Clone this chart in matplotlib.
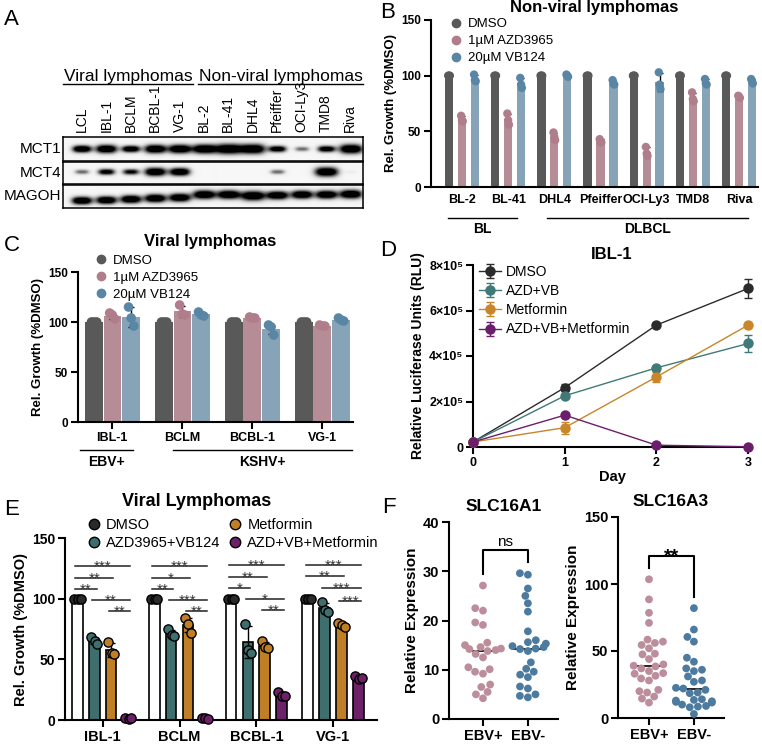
import numpy as np
import pandas as pd
import matplotlib
matplotlib.use('Agg')
import matplotlib.pyplot as plt
import seaborn as sns
from matplotlib.lines import Line2D

plt.rcParams['font.family'] = ['Liberation Sans', 'DejaVu Sans']

# ── data ─────────────────────────────────────────────────────────────────────

# A: western blot (band strength per lane, >1 = saturated)
blot_lanes = ['LCL', 'IBL-1', 'BCLM', 'BCBL-1', 'VG-1', 'BL-2', 'BL-41',
              'DHL4', 'Pfeiffer', 'OCI-Ly3', 'TMD8', 'Riva']
mct1_level = [0.75, 1.0, 0.65, 1.05, 1.1, 1.2, 1.5, 1.3, 0.6, 0.3, 0.6, 1.2]
mct4_level = [0.3, 0.55, 0.5, 1.0, 0.9, 0, 0, 0, 0.3, 0, 1.2, 0.04]
magoh_level = [0.9, 0.9, 0.95, 1.0, 1.0, 1.1, 1.1, 1.25, 1.0, 1.0, 1.0, 1.1]
mct1_pos = [0.5] * 12
mct4_pos = [0.45] * 12
magoh_pos = [0.68, 0.66, 0.62, 0.58, 0.55, 0.42, 0.42, 0.47, 0.45, 0.42, 0.42, 0.40]

# B: non-viral lymphomas, % DMSO (3 replicates)
b_lines = ['BL-2', 'BL-41', 'DHL4', 'Pfeiffer', 'OCI-Ly3', 'TMD8', 'Riva']
b_dmso = [[100, 100, 100]] * 7
b_azd = [[64, 60, 59], [66, 60, 56], [49, 45, 42], [43, 40, 40],
         [36, 30, 28], [85, 79, 77], [82, 81, 80]]
b_vb = [[101, 96, 95], [98, 92, 89], [101, 100, 99], [96, 93, 92],
        [103, 92, 88], [97, 93, 92], [97, 95, 93]]

# C: viral lymphomas, % DMSO
c_lines = ['IBL-1', 'BCLM', 'BCBL-1', 'VG-1']
c_dmso = [[100, 100, 100]] * 4
c_azd = [[109, 107, 103], [117, 108, 107], [105, 104, 104], [97, 96, 96]]
c_vb = [[115, 104, 96], [110, 107, 106], [97, 95, 87], [104, 102, 101]]

# D: IBL-1 growth (RLU)
d_days = [0, 1, 2, 3]
d_dmso = [22000, 261000, 536000, 697000]
d_dmso_err = [2000, 15000, 5000, 40000]
d_azdvb = [22000, 225000, 348000, 455000]
d_azdvb_err = [2000, 6000, 5000, 37000]
d_met = [22000, 85000, 308000, 536000]
d_met_err = [2000, 27000, 23000, 5000]
d_triple = [22000, 140000, 8000, 1000]
d_triple_err = [2000, 5000, 2000, 1000]

# E: viral lymphomas with metformin, % DMSO
e_lines = ['IBL-1', 'BCLM', 'BCBL-1', 'VG-1']
e_dmso = [[100, 100, 100]] * 4
e_azdvb = [[68, 65, 63], [75, 70, 69], [79, 58, 55], [97, 91, 89]]
e_met = [[64, 55, 54], [84, 79, 72], [65, 60, 59], [80, 78, 77]]
e_triple = [[1.5, 1, 1.5], [1.5, 1.5, 1], [23, 20, 20], [36, 34, 35]]
# significance: (group, bar_i, bar_j, y, label)
e_sig = [
    (0, 0, 3, 127, '***'), (0, 0, 2, 117, '**'), (0, 0, 1, 108, '**'),
    (0, 1, 3, 99, '**'), (0, 2, 3, 90, '**'),
    (1, 0, 3, 127, '***'), (1, 0, 2, 117, '*'), (1, 0, 1, 108, '**'),
    (1, 1, 3, 99, '***'), (1, 2, 3, 90, '**'),
    (2, 0, 3, 128, '***'), (2, 0, 2, 118, '**'), (2, 0, 1, 109, '*'),
    (2, 1, 3, 100, '*'), (2, 2, 3, 91, '**'),
    (3, 0, 3, 128, '***'), (3, 0, 2, 119, '**'), (3, 1, 3, 109, '***'),
    (3, 2, 3, 98, '***'),
]

# F: relative expression, EBV+ vs EBV-
f1_pos = [27.1, 22.5, 22.0, 19.6, 19.1, 15.5, 15.0, 14.6, 14.2, 14.0, 14.3,
          13.8, 13.2, 12.5, 10.5, 10.1, 9.6, 9.2, 7.0, 6.5, 5.5, 5.0, 4.2]
f1_neg = [29.6, 29.3, 26.5, 25.0, 23.5, 21.8, 17.8, 16.0, 15.6, 15.3, 14.8,
          14.6, 14.3, 14.2, 13.8, 11.5, 10.2, 9.6, 9.0, 8.5, 6.6, 6.2, 5.0,
          4.7, 4.4]
f3_pos = [103.5, 88.5, 78.5, 71, 58.5, 57, 56, 54.5, 52, 48, 47.5, 44, 40, 39,
          38.5, 37, 35, 33.5, 33, 31.5, 29.5, 28, 21, 20, 19, 16, 14.5, 11.5]
f3_neg = [82, 66, 60.5, 57, 45, 42, 37, 36, 35, 31, 28, 27, 22.5, 22, 21, 19,
          18.5, 14, 13.5, 13, 12.5, 12, 11.5, 10, 9, 8.5, 8, 3]
f1_sig = (34.3, 29.5, 31.8, 'ns')
f3_sig = (121, 112, 90, '**')

# ── colours ──────────────────────────────────────────────────────────────────
GRAY = '#595959'
PINK, PINK_D = '#b68c97', '#b07d8b'
BLUE, BLUE_D = '#87a3b7', '#5a86a6'
TEAL, ORANGE, PURPLE = '#3e6e6e', '#c07f25', '#6d2168'
F_PINK, F_BLUE = '#bc8e9b', '#4d7ba0'

W, H = 762, 744
fig = plt.figure(figsize=(W / 100, H / 100), dpi=100)


def px_axes(x0, y0, x1, y1):
    return fig.add_axes([x0 / W, 1 - y1 / H, (x1 - x0) / W, (y1 - y0) / H])


def prism(ax, lw=1.5):
    for s in ['top', 'right']:
        ax.spines[s].set_visible(False)
    for s in ['left', 'bottom']:
        ax.spines[s].set_linewidth(lw)
    ax.tick_params(width=lw, length=5, direction='out', pad=2)


def ftext(x, y, s, **kw):
    fig.text(x / W, 1 - y / H, s, **kw)


def bars(ax, x, reps, width, color, pcolor, edge='none', pedge='none',
         psize=25, jit=(-0.12, 0.0, 0.12), cap=2):
    reps = np.asarray(reps, float)
    m, sd = reps.mean(1), reps.std(1, ddof=1)
    ax.bar(x, m, width, color=color, edgecolor=edge, lw=1.2, zorder=2)
    ax.errorbar(x, m, yerr=sd, fmt='none', ecolor='black', elinewidth=1,
                capsize=cap, capthick=1, zorder=3)
    for j in range(reps.shape[1]):
        ax.scatter(x + jit[j] * width, reps[:, j], s=psize, color=pcolor,
                   edgecolors=pedge, linewidths=1, zorder=4, clip_on=False)


# ── panel letters ────────────────────────────────────────────────────────────
for letter, x, y in [('A', 4, 25), ('B', 380, 18), ('C', 4, 251),
                     ('D', 380, 256), ('E', 4, 515), ('F', 382, 513)]:
    ftext(x, y, letter, fontsize=16, va='baseline')

# ── A: blot ──────────────────────────────────────────────────────────────────
lane_x = np.linspace(82, 350, len(blot_lanes))
BL_X0, BL_X1 = 63, 363


def band_image(level, ypos, wpx, hpx):
    X, Y = np.meshgrid(np.arange(wpx) + 0.5, np.arange(hpx) + 0.5)
    img = np.full((hpx, wpx), 0.07)
    for cx, a, yp in zip(lane_x - BL_X0, level, ypos):
        if a <= 0:
            continue
        sx = 6 + 5 * min(a, 1.5)
        sy = 1.8 + 2.6 * min(a, 1.4)
        img += 1.3 * min(1.0, 1.5 * a) * np.exp(
            -np.abs((X - cx) / sx) ** 3 - ((Y - yp * hpx) / sy) ** 2)
    return np.clip(img, 0, 1)


for name, lev, pos, (y0, y1) in [('MCT1', mct1_level, mct1_pos, (137, 161)),
                                  ('MCT4', mct4_level, mct4_pos, (162, 184)),
                                  ('MAGOH', magoh_level, magoh_pos, (185, 208))]:
    ax = px_axes(BL_X0, y0, BL_X1, y1)
    ax.imshow(band_image(lev, pos, BL_X1 - BL_X0, y1 - y0), cmap='Greys',
              vmin=0, vmax=1, aspect='auto', interpolation='bilinear')
    ax.set_xticks([]); ax.set_yticks([])
    for s in ax.spines.values():
        s.set_linewidth(1.1)
    ftext(61, (y0 + y1) / 2, name, fontsize=11, ha='right', va='center')

for x, name in zip(lane_x, blot_lanes):
    ftext(x, 132, name, fontsize=10, rotation=90, ha='center', va='bottom')

for label, x0, x1 in [('Viral lymphomas', 63, 193), ('Non-viral lymphomas', 198, 363)]:
    fig.add_artist(Line2D([x0 / W, x1 / W], [1 - 84 / H] * 2, color='black', lw=1))
    ftext((x0 + x1) / 2, 81, label, fontsize=12.5, ha='center', va='baseline')

# ── B ────────────────────────────────────────────────────────────────────────
ax = px_axes(431, 20, 758, 187)
prism(ax)
xb = np.arange(len(b_lines))
bj = (-0.1, 0.0, 0.1)
bars(ax, xb - 0.28, b_dmso, 0.18, GRAY, GRAY, psize=36, jit=bj)
bars(ax, xb, b_azd, 0.18, PINK, PINK_D, psize=36, jit=bj)
bars(ax, xb + 0.28, b_vb, 0.18, BLUE, BLUE_D, psize=36, jit=bj)
ax.set_xlim(-0.67, 6.41)
ax.set_ylim(0, 150)
ax.set_yticks([0, 50, 100, 150])
ax.set_xticks(xb, b_lines)
ax.tick_params(axis='x', length=0, pad=5)
for t in ax.get_xticklabels():
    t.set_fontsize(9); t.set_fontweight('bold')
for t in ax.get_yticklabels():
    t.set_fontsize(8.5); t.set_fontweight('bold')
ax.set_ylabel('Rel. Growth (%DMSO)', fontsize=9.5, fontweight='bold', labelpad=3)
ax.set_title('Non-viral lymphomas', fontsize=12, fontweight='bold', pad=6)
tr = ax.get_xaxis_transform()
for label, x0, x1 in [('BL', -0.3, 1.2), ('DLBCL', 1.85, 6.2)]:
    ax.plot([x0, x1], [-0.186, -0.186], color='black', lw=1, transform=tr, clip_on=False)
    ax.text((x0 + x1) / 2, -0.25, label, transform=tr, ha='center', va='center',
            fontsize=10, fontweight='bold')
hb = [Line2D([], [], ls='', marker='o', ms=6, color=c) for c in (GRAY, PINK_D, BLUE_D)]
ax.legend(hb, ['DMSO', '1µM AZD3965', '20µM VB124'], loc='upper left',
          bbox_to_anchor=(0.035, 1.05), frameon=False, fontsize=9.5,
          handlelength=1, handletextpad=0.4, labelspacing=0.35, borderpad=0)

# ── C ────────────────────────────────────────────────────────────────────────
ax = px_axes(78, 272, 353, 422)
prism(ax)
xc = np.arange(len(c_lines))
cj = (-0.15, 0.0, 0.15)
bars(ax, xc - 0.26, c_dmso, 0.25, GRAY, GRAY, psize=48, jit=cj)
bars(ax, xc, c_azd, 0.25, PINK, PINK_D, psize=48, jit=cj)
bars(ax, xc + 0.27, c_vb, 0.25, BLUE, BLUE_D, psize=48, jit=cj)
ax.set_xlim(-0.49, 3.44)
ax.set_ylim(0, 150)
ax.set_yticks([0, 50, 100, 150])
ax.set_xticks(xc, c_lines)
for t in ax.get_xticklabels():
    t.set_fontsize(9); t.set_fontweight('bold')
for t in ax.get_yticklabels():
    t.set_fontsize(8.5); t.set_fontweight('bold')
ax.set_ylabel('Rel. Growth (%DMSO)', fontsize=9.5, fontweight='bold', labelpad=3)
ftext(210, 242, 'Viral lymphomas', fontsize=12, fontweight='bold', ha='center', va='center')
tr = ax.get_xaxis_transform()
for label, x0, x1 in [('EBV+', -0.46, 0.30), ('KSHV+', 0.87, 3.42)]:
    ax.plot([x0, x1], [-0.187, -0.187], color='black', lw=1, transform=tr, clip_on=False)
    ax.text((x0 + x1) / 2, -0.267, label, transform=tr, ha='center', va='center',
            fontsize=10, fontweight='bold')
ax.legend(hb, ['DMSO', '1µM AZD3965', '20µM VB124'], loc='upper left',
          bbox_to_anchor=(0.035, 1.16), frameon=False, fontsize=9.5,
          handlelength=1, handletextpad=0.4, labelspacing=0.35, borderpad=0)

# ── D ────────────────────────────────────────────────────────────────────────
ax = px_axes(473, 265, 751, 447)
prism(ax)
for y, e, c, lab in [(d_dmso, d_dmso_err, '#2b2b2b', 'DMSO'),
                     (d_azdvb, d_azdvb_err, '#3f7a78', 'AZD+VB'),
                     (d_met, d_met_err, '#c8852a', 'Metformin'),
                     (d_triple, d_triple_err, '#6b1e6b', 'AZD+VB+Metformin')]:
    ax.errorbar(d_days, y, yerr=e, color=c, lw=1, marker='o', ms=6.5,
                capsize=3, elinewidth=1, capthick=1, label=lab, clip_on=False, zorder=3)
ax.set_xlim(0, 3.03)
ax.set_ylim(0, 800000)
ax.set_xticks(d_days)
ax.set_yticks([0, 200000, 400000, 600000, 800000],
              ['0', '2×10⁵', '4×10⁵', '6×10⁵', '8×10⁵'])
for t in ax.get_xticklabels() + ax.get_yticklabels():
    t.set_fontsize(9); t.set_fontweight('bold')
ax.set_xlabel('Day', fontsize=10.5, fontweight='bold', labelpad=1)
ax.set_ylabel('Relative Luciferase Units (RLU)', fontsize=10, fontweight='bold', labelpad=3)
ax.set_title('IBL-1', fontsize=12, fontweight='bold', pad=4)
ax.legend(loc='upper left', bbox_to_anchor=(-0.005, 1.04), frameon=False, fontsize=10,
          handlelength=1.6, handletextpad=0.4, labelspacing=0.38, borderpad=0)

# ── E ────────────────────────────────────────────────────────────────────────
ax = px_axes(65, 538, 377, 720)
prism(ax)
xe = np.arange(len(e_lines))
e_off = [-0.33, -0.11, 0.11, 0.33]
e_jit = (-0.3, 0.05, 0.3)
ekw = dict(edge='black', pedge='black', psize=44, jit=e_jit, cap=3)
bars(ax, xe + e_off[0], e_dmso, 0.14, 'white', '#2a2a2a', **ekw)
bars(ax, xe + e_off[1], e_azdvb, 0.14, TEAL, TEAL, **ekw)
bars(ax, xe + e_off[2], e_met, 0.14, ORANGE, ORANGE, **ekw)
bars(ax, xe + e_off[3], e_triple, 0.14, PURPLE, PURPLE, **ekw)
for g, i, j, y, lab in e_sig:
    x0, x1 = g + e_off[i] - 0.03, g + e_off[j] + 0.03
    ax.plot([x0, x1], [y, y], color='#222222', lw=1.1, zorder=5)
    ax.annotate(lab, ((x0 + x1) / 2, y), xytext=(0, -3.5), textcoords='offset points',
                ha='center', va='baseline', fontsize=11, color='#333333')
ax.set_xlim(-0.49, 3.57)
ax.set_ylim(0, 150)
ax.set_yticks([0, 50, 100, 150])
ax.set_xticks(xe, e_lines)
for t in ax.get_xticklabels():
    t.set_fontsize(10.5); t.set_fontweight('bold')
for t in ax.get_yticklabels():
    t.set_fontsize(10); t.set_fontweight('bold')
ax.set_ylabel('Rel. Growth (%DMSO)', fontsize=10.5, fontweight='bold', labelpad=3)
ftext(197, 501, 'Viral Lymphomas', fontsize=13, fontweight='bold', ha='center', va='center')
he = [Line2D([], [], ls='', marker='o', ms=7.5, markerfacecolor=c, markeredgecolor='black')
      for c in ('#2a2a2a', TEAL, ORANGE, PURPLE)]
ax.legend(he, ['DMSO', 'AZD3965+VB124', 'Metformin', 'AZD+VB+Metformin'], ncol=2,
          loc='upper left', bbox_to_anchor=(0.045, 1.15), frameon=False, fontsize=10.5,
          handlelength=1, handletextpad=0.35, labelspacing=0.25, borderpad=0,
          columnspacing=0.5)


# ── F ────────────────────────────────────────────────────────────────────────
def swarm_panel(box, pos, neg, ylim, yticks, xlim, title, sig):
    ax = px_axes(*box)
    prism(ax)
    df = pd.DataFrame({'grp': ['EBV+'] * len(pos) + ['EBV-'] * len(neg),
                       'val': pos + neg})
    sns.swarmplot(data=df, x='grp', y='val', hue='grp', order=['EBV+', 'EBV-'],
                  palette={'EBV+': F_PINK, 'EBV-': F_BLUE}, size=5.6, ax=ax,
                  legend=False, zorder=3, warn_thresh=1)
    for i, vals in enumerate([pos, neg]):
        ax.hlines(np.median(vals), i - 0.33, i + 0.33, color='black', lw=1.2, zorder=2)
    top, left, right, lab = sig
    ax.plot([0, 0, 1, 1], [left, top, top, right], color='black', lw=1.5)
    bold = lab != 'ns'
    ax.annotate(lab, (0.5, top), xytext=(0, -4 if bold else 3), textcoords='offset points',
                ha='center', va='baseline', fontsize=14 if bold else 11,
                fontweight='bold' if bold else 'normal')
    ax.set_xlim(*xlim)
    ax.set_ylim(*ylim)
    ax.set_yticks(yticks)
    ax.set_xlabel(''); ax.set_ylabel('Relative Expression', fontsize=11,
                                     fontweight='bold', labelpad=3)
    for t in ax.get_xticklabels() + ax.get_yticklabels():
        t.set_fontsize(10.5); t.set_fontweight('bold')
    ax.set_title(title, fontsize=12.5, fontweight='bold', pad=8)
    return ax


swarm_panel((449, 522, 558, 719), f1_pos, f1_neg, (0, 40), [0, 10, 20, 30, 40],
            (-0.756, 1.67), 'SLC16A1', f1_sig)
swarm_panel((618, 517, 724, 718), f3_pos, f3_neg, (0, 150), [0, 50, 100, 150],
            (-0.69, 1.67), 'SLC16A3', f3_sig)

fig.savefig('out.png', dpi=100)
